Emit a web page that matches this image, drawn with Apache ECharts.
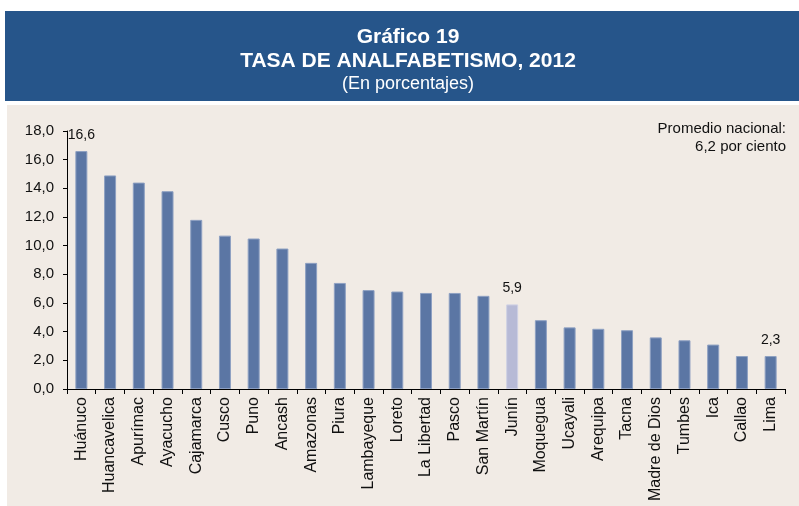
<!DOCTYPE html>
<html>
<head>
<meta charset="utf-8">
<script src="https://cdn.jsdelivr.net/npm/echarts@6/dist/echarts.min.js"></script>
<style>
    html, body { margin: 0; padding: 0; background: #ffffff; }
    #chart { width: 799px; height: 506px; }
</style>
</head>
<body>
<div id="chart"></div>
<script>
    // regiones y tasas de analfabetismo 2012 (%)
    var regiones = ['Huánuco', 'Huancavelica', 'Apurímac', 'Ayacucho', 'Cajamarca', 'Cusco', 'Puno', 'Ancash',
        'Amazonas', 'Piura', 'Lambayeque', 'Loreto', 'La Libertad', 'Pasco', 'San Martín', 'Junín', 'Moquegua',
        'Ucayali', 'Arequipa', 'Tacna', 'Madre de Dios', 'Tumbes', 'Ica', 'Callao', 'Lima'];
    var tasas = [16.6, 14.9, 14.4, 13.8, 11.8, 10.7, 10.5, 9.8, 8.8, 7.4, 6.9, 6.8, 6.7, 6.7, 6.5, 5.9, 4.8,
        4.3, 4.2, 4.1, 3.6, 3.4, 3.1, 2.3, 2.3];
    var destacada = 'Junín';
    var conEtiqueta = ['Huánuco', 'Junín', 'Lima'];

    function coma(v) { return v.toFixed(1).replace('.', ','); }

    var datos = tasas.map(function (v, i) {
        var d = { value: v };
        if (regiones[i] === destacada) {
            d.itemStyle = { color: '#b7bad6', borderColor: '#cfd1e4' };
        }
        if (conEtiqueta.indexOf(regiones[i]) >= 0) {
            d.label = { show: true };
        }
        return d;
    });

    var chart = echarts.init(document.getElementById('chart'));
    chart.setOption({
        animation: false,
        textStyle: { fontFamily: 'Liberation Sans, Arial, sans-serif' },
        graphic: [
            { type: 'rect', z: -10, shape: { x: 5, y: 11, width: 794, height: 90 }, style: { fill: '#26558a' } },
            { type: 'rect', z: -10, shape: { x: 7, y: 105, width: 792, height: 401 }, style: { fill: '#f1ebe5' } },
            {
                type: 'text', x: 408, y: 37,
                style: { text: 'Gráfico 19', fill: '#fff', font: 'bold 21px Liberation Sans', align: 'center', verticalAlign: 'middle' }
            },
            {
                type: 'text', x: 408, y: 61,
                style: { text: 'TASA DE ANALFABETISMO, 2012', fill: '#fff', font: 'bold 21px Liberation Sans', align: 'center', verticalAlign: 'middle' }
            },
            {
                type: 'text', x: 408, y: 84,
                style: { text: '(En porcentajes)', fill: '#fff', font: '18px Liberation Sans', align: 'center', verticalAlign: 'middle' }
            },
            {
                type: 'text', x: 786, y: 129,
                style: { text: 'Promedio nacional:', fill: '#111', font: '15px Liberation Sans', align: 'right', verticalAlign: 'middle' }
            },
            {
                type: 'text', x: 786, y: 147,
                style: { text: '6,2 por ciento', fill: '#111', font: '15px Liberation Sans', align: 'right', verticalAlign: 'middle' }
            }
        ],
        grid: { left: 67, right: 14, top: 131, bottom: 117 },
        xAxis: {
            type: 'category',
            data: regiones,
            axisLine: { lineStyle: { color: '#000', width: 1 } },
            axisTick: { show: true, length: 5, lineStyle: { color: '#000' } },
            axisLabel: { rotate: 90, color: '#111', fontSize: 16, margin: 8 }
        },
        yAxis: {
            type: 'value',
            min: 0, max: 18, interval: 2,
            axisLine: { show: true, lineStyle: { color: '#000', width: 1 } },
            axisTick: { show: true, length: 4, lineStyle: { color: '#000' } },
            splitLine: { show: false },
            axisLabel: { color: '#111', fontSize: 15, margin: 13, formatter: function (v) { return coma(v); } }
        },
        series: [{
            type: 'bar',
            data: datos,
            barWidth: 12,
            itemStyle: { color: '#5b76a4', borderColor: '#8ea0c2', borderWidth: 1 },
            label: {
                show: false, position: 'top', distance: 9, color: '#111', fontSize: 14,
                formatter: function (p) { return coma(p.value); }
            }
        }]
    });
</script>
</body>
</html>
